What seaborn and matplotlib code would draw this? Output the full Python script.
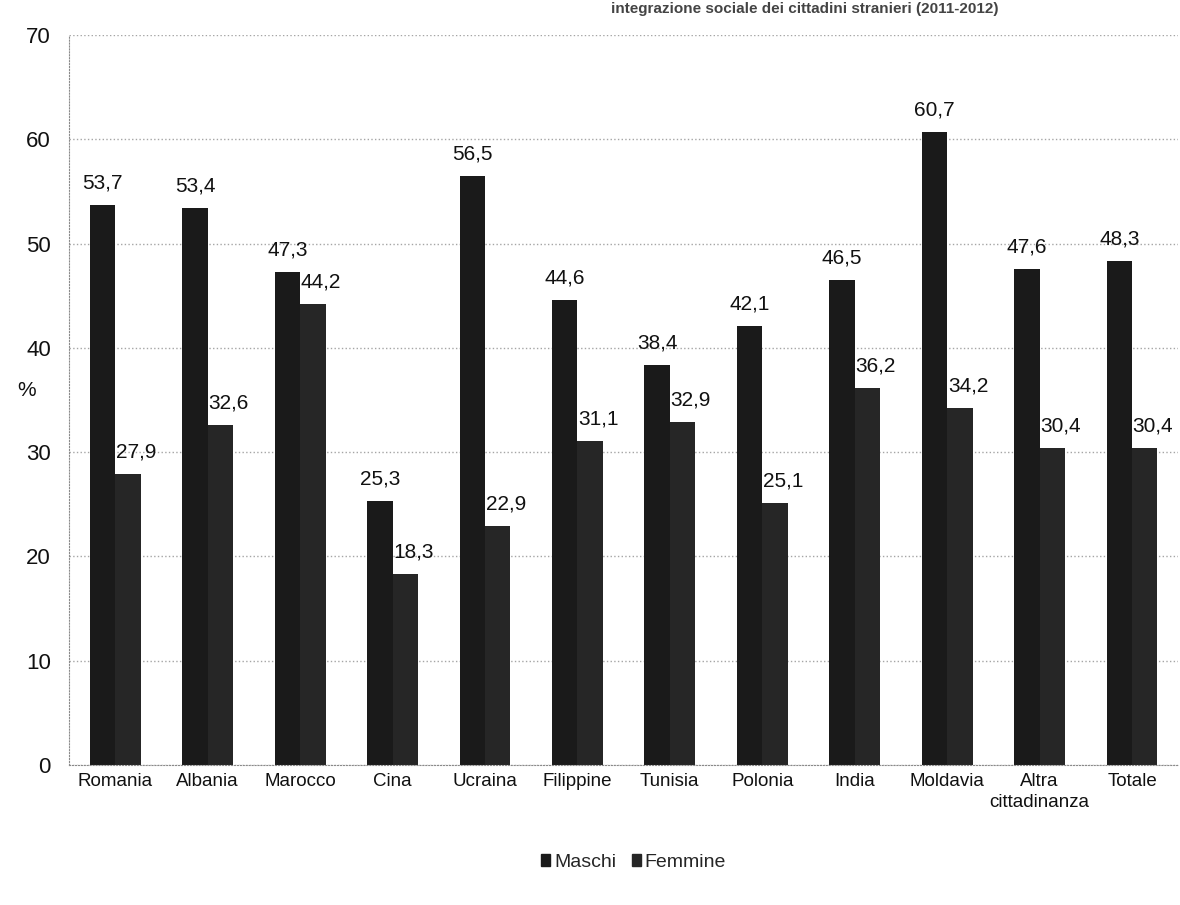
import numpy as np
import pandas as pd
import matplotlib
matplotlib.use("Agg")
import matplotlib.pyplot as plt
import seaborn as sns

# Data
paesi = ["Romania", "Albania", "Marocco", "Cina", "Ucraina", "Filippine",
         "Tunisia", "Polonia", "India", "Moldavia", "Altra\ncittadinanza", "Totale"]
maschi = [53.7, 53.4, 47.3, 25.3, 56.5, 44.6, 38.4, 42.1, 46.5, 60.7, 47.6, 48.3]
femmine = [27.9, 32.6, 44.2, 18.3, 22.9, 31.1, 32.9, 25.1, 36.2, 34.2, 30.4, 30.4]
y_ticks = [0, 10, 20, 30, 40, 50, 60, 70]
titolo = "integrazione sociale dei cittadini stranieri (2011-2012)"

df = pd.DataFrame({
    "Paese": paesi * 2,
    "Valore": maschi + femmine,
    "Sesso": ["Maschi"] * len(paesi) + ["Femmine"] * len(paesi),
})

sns.set_style("white")
plt.rcParams["font.family"] = ["Liberation Sans Narrow", "Liberation Sans", "DejaVu Sans"]

fig = plt.figure(figsize=(11.8, 9.05), dpi=100)
ax = fig.add_axes([0.0585, 0.155, 0.94, 0.806])

colori = {"Maschi": "#1a1a1a", "Femmine": "#262626"}
sns.barplot(data=df, x="Paese", y="Valore", hue="Sesso", palette=colori,
            width=0.55, gap=0, ax=ax, legend=False, saturation=1, linewidth=0)

# value labels with comma decimals
for cont, dx in zip(ax.containers, [0, 6]):
    for bar in cont:
        h = bar.get_height()
        ax.annotate(f"{h:.1f}".replace(".", ","),
                    (bar.get_x() + bar.get_width() / 2, h),
                    xytext=(dx, 9), textcoords="offset points",
                    ha="center", va="bottom", fontsize=15, color="#111111")

ax.set_ylim(0, 70)
ax.set_xlim(-0.5, len(paesi) - 0.5)
ax.set_yticks(y_ticks)
ax.yaxis.grid(True, linestyle=":", color="#a5a5a5", linewidth=1)
ax.set_axisbelow(True)

for s in ["top", "right"]:
    ax.spines[s].set_visible(False)
for s in ["left", "bottom"]:
    ax.spines[s].set_linestyle(":")
    ax.spines[s].set_color("#8a8a8a")

ax.set_xticks(np.arange(len(paesi)))
ax.set_xticklabels(paesi, fontsize=13.5, color="#111111", linespacing=1.3)
ax.set_xticks(np.arange(len(paesi) + 1) - 0.5, minor=True)
ax.tick_params(axis="x", which="major", length=0, pad=6)
ax.tick_params(axis="x", which="minor", length=5, color="#8a8a8a")
ax.tick_params(axis="y", length=5, color="#8a8a8a", pad=8, labelsize=16, labelcolor="#111111")

ax.set_xlabel("")
ax.set_ylabel("%", rotation=0, fontsize=15, color="#111111")
ax.yaxis.set_label_coords(-0.038, 0.5)

# legend below the chart
handles = [plt.Rectangle((0, 0), 1, 1, color=colori[k]) for k in ["Maschi", "Femmine"]]
fig.legend(handles, ["Maschi", "Femmine"], loc="center", bbox_to_anchor=(0.537, 0.047),
           ncol=2, frameon=False, fontsize=14, handlelength=0.45, handleheight=0.6,
           handletextpad=0.2, columnspacing=0.8)

# title at the top edge, as in the scan
fig.text(0.846, 0.986, titolo, ha="right", va="baseline", fontsize=11,
         color="#444444", fontweight="bold")

fig.savefig("out.png", dpi=100)
